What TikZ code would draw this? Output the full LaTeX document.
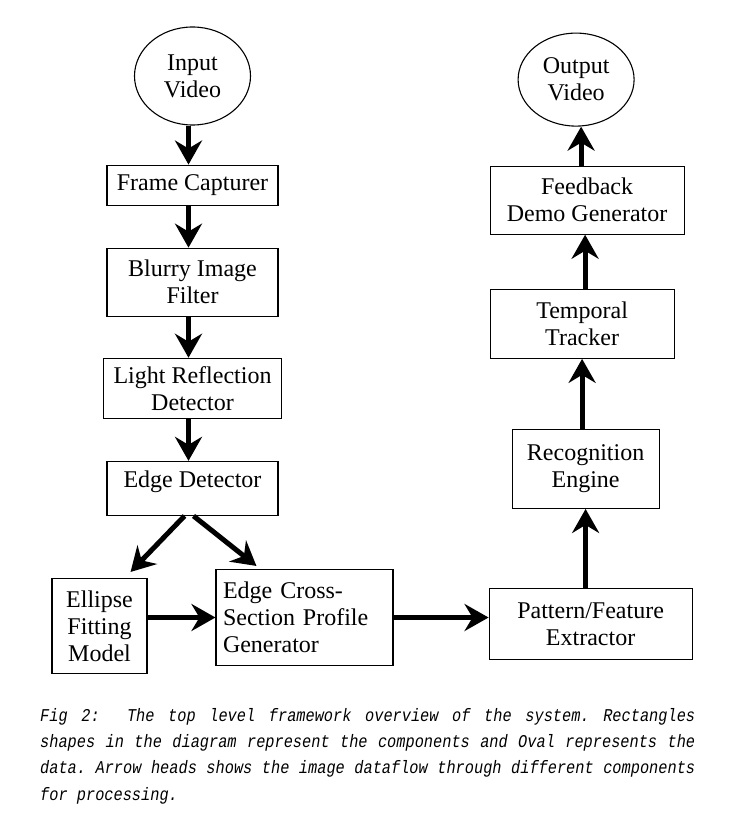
\documentclass[tikz,border=0pt]{standalone}
\usepackage{fontspec}
\setmainfont{Liberation Serif}
\newfontfamily\capfont[FakeStretch=0.85]{Liberation Mono}
\usetikzlibrary{positioning, arrows.meta, shapes.geometric}

\begin{document}
\begin{tikzpicture}[x=1pt, y=-1pt, node distance=41pt,
        every node/.style={font=\fontsize{24}{27}\selectfont, align=center},
        block/.style={draw, rectangle, line width=1.1pt, inner sep=2pt},
        datanode/.style={draw, ellipse, line width=1.1pt, inner sep=0pt},
        flow/.style={-{Stealth[length=24pt, width=27pt, inset=8pt]}, line width=5pt}]
        \useasboundingbox (0,0) rectangle (749,826);
        % Left column
        \node[datanode, minimum width=116pt, minimum height=98pt] (input) at (192.5,76) {Input\\Video};
        \node[block, below=39pt of input, minimum width=171pt, minimum height=40pt] (frame) {Frame Capturer};
        \node[block, below=42pt of frame, minimum width=171pt, minimum height=68pt] (blurry) {Blurry Image\\Filter};
        \node[block, below=41pt of blurry, minimum width=178pt, minimum height=60pt] (light) {Light Reflection\\Detector};
        \node[block, below=42pt of light, minimum width=171pt, minimum height=54pt, text depth=19pt] (edge) {Edge Detector};
        \node[block, below=62pt of edge, xshift=-93pt, minimum width=95pt, minimum height=95pt] (ellipsefit) {Ellipse\\Fitting\\Model};
        \node[block, below=53pt of edge, xshift=112pt, text width=163pt, inner xsep=7pt, minimum height=96pt, align=left] (profile) {Edge Cross-\\Section Profile\\Generator};
        % Right column
        \node[block, right=95pt of profile, yshift=-6.5pt, minimum width=203pt, minimum height=71pt] (pattern) {Pattern/Feature\\Extractor};
        \node[block, above=79pt of pattern, xshift=-5pt, minimum width=147pt, minimum height=79pt] (recog) {Recognition\\Engine};
        \node[block, above=70pt of recog, xshift=-3.5pt, minimum width=184pt, minimum height=69pt] (temporal) {Temporal\\Tracker};
        \node[block, above=54pt of temporal, xshift=5pt, minimum width=194pt, minimum height=68pt] (feedback) {Feedback\\Demo Generator};
        \node[datanode, above=39pt of feedback, xshift=-11pt, minimum width=116pt, minimum height=93pt] (output) {Output\\Video};
        % Caption
        \node[anchor=north west, inner sep=0pt, text width=655pt, align=justify,
            font=\capfont\itshape\fontsize{18}{26.3}\selectfont] (caption) at (40,708)
            {\frenchspacing\hyphenpenalty=10000\spaceskip=0.51em plus 1.2em\relax
            Fig 2:~~The top level framework overview of the system. Rectangles shapes in the diagram represent the components and Oval represents the data. Arrow heads shows the image dataflow through different components for processing.};
        % Arrows
        \draw[flow] ([xshift=-4pt]input.south) -- ([xshift=-4pt]frame.north);
        \draw[flow] ([xshift=-4pt]frame.south) -- ([xshift=-4pt]blurry.north);
        \draw[flow] ([xshift=-4pt]blurry.south) -- ([xshift=-4pt]light.north);
        \draw[flow] ([xshift=-4pt]light.south) -- ([xshift=-4pt]edge.north);
        \draw[flow] ([xshift=-8pt]edge.south) -- ([xshift=-17pt, yshift=6pt]ellipsefit.north east);
        \draw[flow] ([xshift=1pt]edge.south) -- ([xshift=41pt, yshift=3pt]profile.north west);
        \draw[flow] (ellipsefit.east |- profile.west) -- (profile.west);
        \draw[flow] (profile.east) -- (profile.east -| pattern.west);
        \draw[flow] (recog.south |- pattern.north) -- (recog.south);
        \draw[flow] (temporal.south |- recog.north) -- (temporal.south);
        \draw[flow] ([xshift=3pt]temporal.north) -- ([xshift=3pt]temporal.north |- feedback.south);
        \draw[flow] ([xshift=-6pt]feedback.north) -- ([xshift=5pt]output.south);
    \end{tikzpicture}
\end{document}
